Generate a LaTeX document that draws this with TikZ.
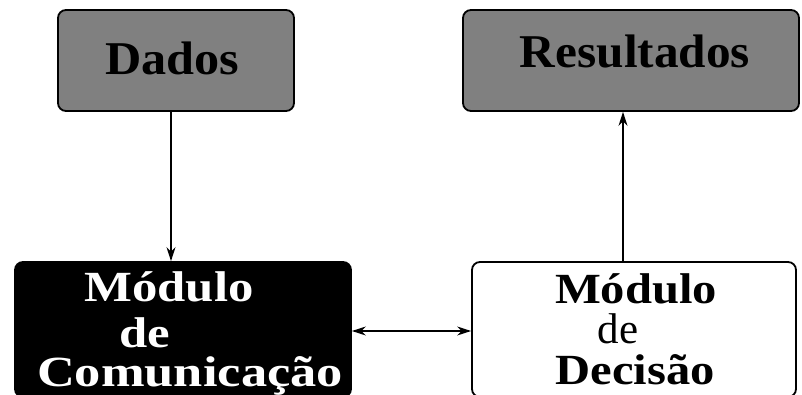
\documentclass[tikz,border=0pt]{standalone}
\usepackage{fontspec}
\setmainfont{Liberation Serif}
\usetikzlibrary{arrows.meta}
\begin{document}
\begin{tikzpicture}[x=1pt,y=1pt,
  box/.style={draw=black, line width=1.8pt, rounded corners=8pt, inner sep=0pt},
  grey box/.style={box, fill=black!50},
  dark box/.style={box, fill=black},
  plain box/.style={box, fill=white},
  link/.style={line width=1.4pt, -{Stealth[length=14pt,width=9pt]}},
  both link/.style={line width=1.4pt, {Stealth[length=14pt,width=9pt]}-{Stealth[length=14pt,width=9pt]}},
  title/.style={font=\fontsize{47}{47}\selectfont\bfseries, inner sep=0pt, anchor=base},
  modline/.style={font=\fontsize{43}{42}\selectfont, inner sep=0pt, anchor=base,
    text height=30pt, text depth=0pt},
]
\useasboundingbox (0,0) rectangle (802,395);
\clip (0,0) rectangle (802,395);

% boxes
\node[grey box, minimum width=236pt, minimum height=101pt] (dados) at (176,334.5) {};
\node[grey box, minimum width=336pt, minimum height=101pt] (result) at (631,334.5) {};
\node[dark box, minimum width=336pt, minimum height=135pt] (comm) at (183,65.5) {};
\node[plain box, minimum width=324pt, minimum height=135pt] (decis) at (634,65.5) {};

% titles of the data boxes
\node[title] (dadosT) at (172.5,320) {\scalebox{1.07}[1]{Dados}};
\node[title] (resultT) at (635,327) {\scalebox{1.05}[1]{Resultados}};

% communication module (white on black)
\node[modline, text=white] (commA) at (169,93) {\scalebox{1.18}[1]{\bfseries Módulo}};
\node[modline, text=white] (commB) at (145,47) {\scalebox{1.18}[1]{\bfseries de}};
\node[modline, text=white] (commC) at (190,8) {\scalebox{1.22}[1]{\bfseries Comunicação}};

% decision module
\node[modline] (decA) at (636,91) {\scalebox{1.13}[1]{\bfseries Módulo}};
\node[modline] (decB) at (618,51.5) {de};
\node[modline] (decC) at (635,10.5) {\scalebox{1.13}[1]{\bfseries Decisão}};

% connectors
\draw[link] ([xshift=-5pt]dados.south) -- ([xshift=-12pt]comm.north);
\draw[link] ([xshift=-11pt]decis.north) -- ([xshift=-8pt]result.south);
\draw[both link] ([yshift=-1.5pt]comm.east) -- ([yshift=-1.5pt]decis.west);
\end{tikzpicture}
\end{document}
